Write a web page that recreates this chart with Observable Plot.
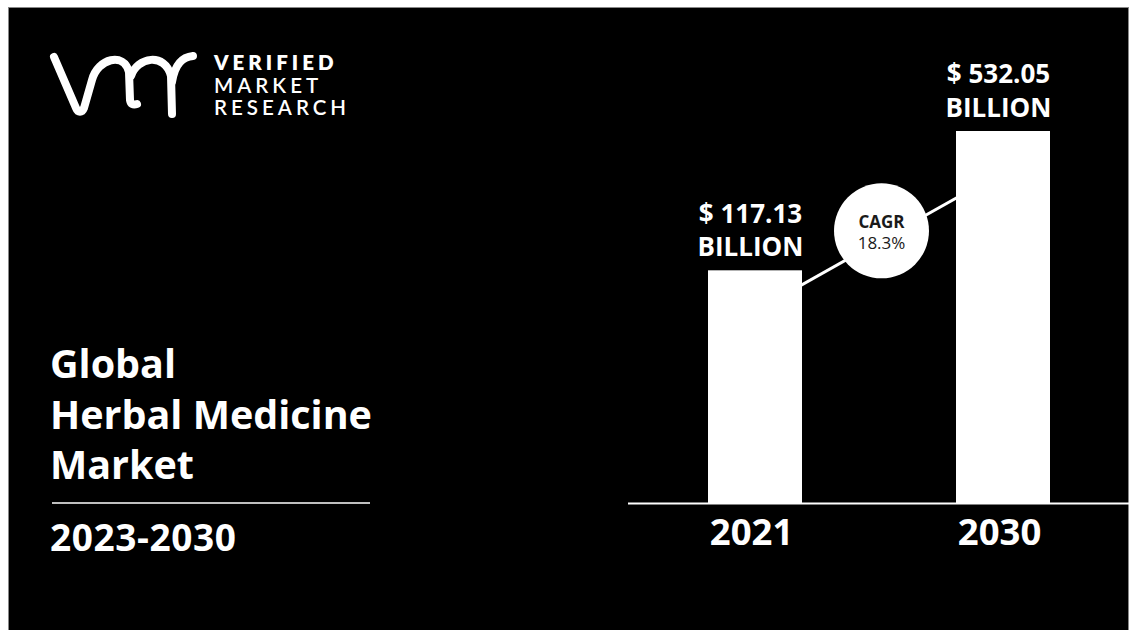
<!DOCTYPE html>
<html>
<head>
<meta charset="utf-8">
<script src="https://cdn.jsdelivr.net/npm/d3@7"></script>
<script src="https://cdn.jsdelivr.net/npm/@observablehq/plot@0.6"></script>
<style>
  html, body { margin: 0; padding: 0; background: #ffffff; }
  #stage { position: relative; width: 1132px; height: 630px; overflow: hidden; background: #ffffff; }
  #panel { position: absolute; left: 9px; top: 8px; width: 1119px; height: 622px; background: #000; box-shadow: 0 0 0 1px #888; }
  #deco { position: absolute; left: 0; top: 0; }
  #chart { position: absolute; left: 0; top: 0; }
</style>
</head>
<body>
<div id="stage">
  <div id="panel"></div>
  <svg id="deco" width="1132" height="630" xmlns="http://www.w3.org/2000/svg"></svg>
  <div id="chart"></div>
</div>
<script>
// ---- data ----
const years = ["2021", "2030"];
const values = [117.13, 532.05];
const valueLabels = ["$ 117.13", "$ 532.05"];
const unitLabel = "BILLION";
const cagrLabel = "CAGR";
const cagrValue = "18.3%";
const titleLines = ["Global", "Herbal Medicine", "Market"];
const periodLabel = "2023-2030";
const brandLines = ["VERIFIED", "MARKET", "RESEARCH"];

// ---- decorative left side (logo + title) ----
const deco = d3.select("#deco");
const logo = deco.append("g").attr("fill", "none").attr("stroke", "#fff")
  .attr("stroke-width", 8).attr("stroke-linecap", "round").attr("stroke-linejoin", "round");
logo.append("path").attr("d", "M54,57 L76,108 C78,113 82,113 84,108 L92,80 C98,58 124,52 129,72 L130,100 Q131,106 137,104");
logo.append("path").attr("d", "M131,76 C137,57 165,52 171,76 L172,114");
logo.append("path").attr("d", "M172,82 C175,63 183,57 193,56");

const brand = deco.append("text")
  .attr("fill", "#fff")
  .attr("font-family", "Lato, sans-serif")
  .attr("font-size", 20.5)
  .attr("letter-spacing", 4);
brand.selectAll("tspan").data(brandLines).join("tspan")
  .attr("x", 214).attr("y", (d, i) => 70 + i * 22.5)
  .attr("font-weight", (d, i) => i === 0 ? 800 : 600)
  .text(d => d);

const title = deco.append("text")
  .attr("fill", "#fff")
  .attr("font-family", "'Open Sans', sans-serif")
  .attr("font-weight", 700)
  .attr("font-size", 39.5);
title.selectAll("tspan").data(titleLines).join("tspan")
  .attr("x", 50).attr("y", (d, i) => 378 + i * 50.5)
  .text(d => d);

deco.append("line").attr("x1", 52).attr("x2", 370).attr("y1", 503).attr("y2", 503)
  .attr("stroke", "#fff").attr("stroke-width", 1.5);

deco.append("text").attr("x", 50).attr("y", 551)
  .attr("fill", "#fff")
  .attr("font-family", "'Open Sans', sans-serif")
  .attr("font-weight", 700)
  .attr("font-size", 37)
  .attr("letter-spacing", 0.6)
  .text(periodLabel);

// ---- chart ----
const data = years.map((year, i) => ({year, value: values[i], label: valueLabels[i]}));

const chart = Plot.plot({
  width: 1132,
  height: 630,
  marginLeft: 628,
  marginRight: 0,
  marginTop: 131,
  marginBottom: 127,
  style: {background: "transparent", color: "#fff", fontFamily: "'Open Sans', sans-serif", overflow: "visible"},
  x: {domain: years, range: [707, 1050], paddingInner: 0.622, paddingOuter: 0, label: null, axis: null},
  y: {type: "pow", exponent: 0.31, domain: [0, d3.max(values)], range: [503, 131], axis: null},
  marks: [
    Plot.link([0], {
      x1: () => years[0], y1: () => values[0],
      x2: () => years[1], y2: () => values[1],
      dy: 40, stroke: "#fff", strokeWidth: 3
    }),
    Plot.barY(data, {x: "year", y: "value", fill: "#fff"}),
    Plot.ruleY([0], {stroke: "#fff", strokeWidth: 2}),
    Plot.text(data, {
      x: "year", y: "value",
      text: d => `${d.label}\n${unitLabel}`,
      lineAnchor: "bottom", lineHeight: 1.27,
      dy: -15, dx: -5,
      fontSize: 26, fontWeight: "bold", fill: "#fff"
    }),
    Plot.dot([0], {x: () => years[0], y: () => values[0], dx: 126, dy: -40, r: 47.5, fill: "#fff", stroke: null}),
    Plot.text([0], {x: () => years[0], y: () => values[0], dx: 126, dy: -43, text: () => cagrLabel,
      lineAnchor: "bottom", fontSize: 17, fontWeight: "bold", fill: "#1a1a1a"}),
    Plot.text([0], {x: () => years[0], y: () => values[0], dx: 126, dy: -22, text: () => cagrValue,
      lineAnchor: "bottom", fontSize: 17, fontWeight: 400, fill: "#1a1a1a"}),
    Plot.axisX({tickSize: 0, tickPadding: 16, fontSize: 36.5, fontWeight: "bold", fill: "#fff", dx: -4, label: null})
  ]
});
document.getElementById("chart").appendChild(chart);
</script>
</body>
</html>
